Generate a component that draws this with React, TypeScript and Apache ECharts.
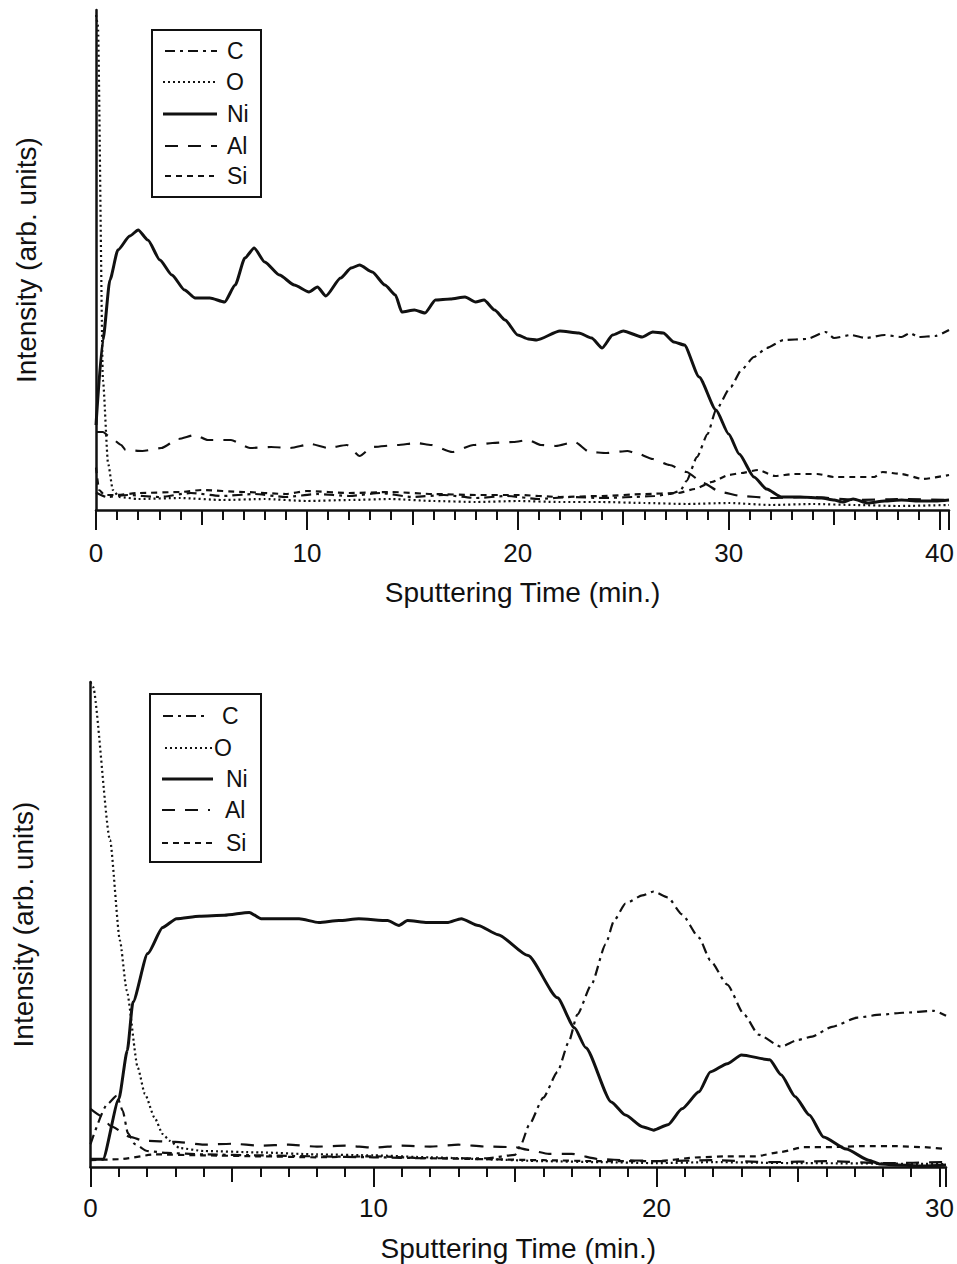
import React, { useEffect, useRef } from "react";
import * as echarts from "echarts";

// Depth profiles: [sputtering time (min), intensity (arb. units)]
const topC: [number, number][] = [
  [0, 3.5], [0.5, 2.6], [1.5, 3.0], [3, 2.6], [4.5, 3.4], [6, 2.8], [7.5, 3.2], [9, 2.6],
  [10.5, 3.2], [12, 2.8], [13.5, 3.4], [15, 2.6], [16.5, 3.0], [18, 2.4], [19.5, 2.8],
  [21, 2.2], [22.5, 2.6], [24, 2.4], [25.5, 2.6], [26.5, 2.8], [27.2, 3.2], [27.7, 3.8],
  [28.0, 5.8], [28.5, 10.6], [29.0, 15.2], [29.4, 20], [30.1, 24.6], [30.6, 28], [31.2, 30.6],
  [31.8, 32.4], [32.6, 34], [33.7, 34.2], [34.6, 35.6], [35.0, 34.4], [35.8, 35], [36.5, 34.4],
  [37.4, 35], [38.2, 34.6], [38.6, 35.4], [39.0, 34.6], [39.8, 34.8], [40.45, 36],
];
const topO: [number, number][] = [
  [0, 99], [0.09, 97], [0.33, 26], [0.57, 9.4], [0.8, 4], [1.1, 2.6], [2, 2.2], [4, 2.4],
  [6, 2.0], [8, 2.2], [10, 1.8], [12, 2.0], [14, 2.2], [16, 1.8], [18, 1.6], [20, 1.8],
  [22, 1.6], [24, 1.6], [26, 1.4], [28, 1.2], [30, 1.4], [32, 1.0], [34, 1.2], [36, 1.0],
  [38, 0.8], [40.45, 1.0],
];
const topNi: [number, number][] = [
  [0, 17], [0.33, 34], [0.66, 46], [1.04, 52], [1.6, 54.8], [2.0, 56], [2.46, 54], [3.03, 50],
  [3.6, 47], [4.2, 44], [4.7, 42.4], [5.4, 42.4], [6.1, 41.6], [6.6, 45], [7.06, 50.4],
  [7.5, 52.4], [8.0, 49.6], [8.7, 47], [9.4, 45], [10.1, 43.6], [10.5, 44.6], [10.9, 42.8],
  [11.6, 46.4], [12.1, 48.4], [12.5, 49], [13.1, 47.6], [13.7, 45], [14.2, 43], [14.5, 39.6],
  [15.1, 40], [15.6, 39.4], [16.1, 42], [16.8, 42.2], [17.5, 42.6], [18.0, 41.6], [18.4, 42],
  [18.9, 40], [19.4, 38], [20.0, 35], [20.5, 34.2], [20.9, 34], [22.0, 35.8], [22.9, 35.4],
  [23.5, 34.4], [24.0, 32.4], [24.5, 35], [25.0, 35.8], [25.9, 34.6], [26.4, 35.6],
  [26.9, 35.4], [27.4, 33.6], [27.9, 33], [28.6, 26.6], [29.4, 20], [30.0, 15.2], [30.5, 11.2],
  [31.2, 6.6], [31.8, 4.2], [32.5, 2.6], [33.4, 2.6], [34.4, 2.4], [35.0, 2], [35.4, 1.6],
  [35.9, 2.2], [36.6, 1.4], [37.4, 1.8], [38.2, 2], [39.0, 1.8], [39.8, 1.8], [40.45, 2],
];
const topAl: [number, number][] = [
  [0, 15.6], [0.33, 15.6], [0.66, 14.6], [1.2, 13], [1.4, 12], [2.2, 11.8], [3.1, 12.4],
  [3.9, 14.2], [4.7, 15], [5.3, 14], [6.4, 14], [7.3, 12.4], [8.3, 12.6], [9.2, 12.4],
  [10.2, 13.2], [11.0, 12.4], [11.9, 13], [12.5, 10.8], [13.1, 12.6], [14.3, 13], [15.2, 13.4],
  [15.9, 13], [16.9, 11.6], [17.9, 13], [18.8, 13.4], [19.8, 13.6], [20.5, 14], [21.1, 13],
  [21.8, 12.8], [22.7, 13.6], [23.4, 11.6], [24.2, 11.4], [25.2, 11.8], [25.6, 11.4],
  [26.4, 10.2], [27.2, 9], [28.0, 7.6], [28.8, 5.4], [29.6, 3.6], [30.6, 2.8], [32, 2.4],
  [34, 2.6], [36, 2], [38, 2.2], [40.45, 2],
];
const topSi: [number, number][] = [
  [0, 8.5], [0.15, 4], [0.4, 3], [1, 3], [2, 3.4], [4, 3.6], [5, 4], [7, 3.6], [9, 3.2],
  [10, 3.8], [12, 3.4], [14, 3.6], [16, 3.2], [18, 3], [20, 3], [22, 2.6], [24, 2.8],
  [26, 3.2], [27.6, 3.4], [28.4, 4.2], [29.2, 5.6], [30, 7], [30.6, 7.4], [31.4, 8],
  [32.2, 6.8], [33.1, 7.2], [34.2, 7.2], [35, 6.6], [36, 6.6], [36.9, 6.6], [37.3, 7.6],
  [38.2, 7.2], [39.2, 6.2], [40.45, 7],
];

const botC: [number, number][] = [
  [0, 4.7], [0.6, 13], [0.93, 14.7], [1.14, 11.6], [1.32, 7], [1.57, 4.7], [2, 3.3], [2.7, 2.9],
  [4, 2.6], [6, 2.4], [8, 2.2], [10, 2.0], [12, 1.8], [14, 1.8], [15, 2.5], [15.2, 4.5],
  [15.5, 8.7], [16.0, 14.3], [16.5, 19.6], [16.9, 25.8], [17.2, 31.4], [17.7, 37.6],
  [18.2, 45.9], [18.5, 50.8], [18.9, 54.3], [19.5, 56], [19.9, 56.8], [20.4, 55.6],
  [20.9, 52.1], [21.5, 47.3], [21.9, 42.6], [22.5, 37.6], [23.1, 31.4], [23.6, 27.3],
  [24.4, 24.8], [25.0, 26.2], [25.5, 26.9], [26.2, 28.9], [27.1, 30.8], [27.9, 31.4],
  [28.7, 31.8], [29.8, 32.2], [30.23, 31.2],
];
const botO: [number, number][] = [
  [0, 100], [0.09, 99], [0.69, 67.4], [1.04, 46.7], [1.28, 36.4], [1.67, 20.5], [1.92, 15.1],
  [2.27, 10.1], [2.55, 6.8], [2.8, 5.4], [3.15, 3.9], [4, 3.3], [6, 3.0], [8, 2.6], [10, 2.4],
  [12, 2.0], [14, 1.6], [16, 1.2], [18, 1.0], [20, 0.8], [22, 1.0], [25, 0.8], [30.23, 0.6],
];
const botNi: [number, number][] = [
  [0, 1.6], [0.44, 1.6], [1.0, 14], [1.3, 24], [1.5, 34], [2.02, 44], [2.55, 49.4],
  [3.04, 51.2], [3.85, 51.7], [4.73, 51.9], [5.61, 52.5], [6.03, 51.2], [7.37, 51.2],
  [8.07, 50.4], [8.78, 50.8], [9.48, 51.2], [10.5, 50.8], [10.9, 49.8], [11.2, 50.8],
  [11.9, 50.4], [12.6, 50.4], [13.1, 51.2], [13.7, 49.8], [14.4, 47.9], [15.46, 43.6],
  [16.5, 34.9], [17.1, 28.7], [17.5, 24.6], [18.4, 13.4], [18.9, 10.7], [19.5, 8.3],
  [19.9, 7.6], [20.4, 8.7], [20.9, 12], [21.5, 15.5], [21.9, 19.6], [22.5, 21.3], [23.0, 23.1],
  [24.0, 22.1], [24.4, 19], [24.9, 14.5], [25.4, 10.7], [25.9, 6.2], [26.7, 3.7], [27.5, 1.4],
  [27.9, 0.6], [28.5, 0.4], [29.4, 0.2], [30.23, 0.4],
];
const botAl: [number, number][] = [
  [0, 12], [0.4, 10.5], [0.7, 8.5], [1.4, 6.2], [1.9, 5.4], [3, 5.2], [4, 4.6], [5, 4.8],
  [6, 4.4], [7, 4.6], [8, 4.2], [9, 4.4], [10, 4.0], [11, 4.4], [12, 4.2], [13, 4.6], [14, 4.2],
  [15, 4.1], [15.5, 3.5], [16.2, 2.7], [17, 2.7], [18, 1.6], [19, 1.4], [20, 1.2], [22, 1.4],
  [24, 1.0], [26, 1.2], [28, 0.8], [30.23, 1.0],
];
const botSi: [number, number][] = [
  [0, 1.4], [1, 1.6], [2.3, 2.6], [4, 2.4], [6, 2.2], [8, 2.0], [10, 2.2], [12, 1.8], [14, 1.6],
  [16, 1.4], [18, 1.2], [20, 1.2], [21.5, 2.0], [22.5, 2.2], [23.5, 2.2], [24.4, 3.1],
  [25.2, 4.1], [26.2, 4.1], [27.3, 4.3], [28.5, 4.3], [29.4, 4.1], [30.23, 3.7],
];

const elements = ["C", "O", "Ni", "Al", "Si"];
const topMaxTime = 40.45;
const botMaxTime = 30.23;
const axisTitleX = "Sputtering Time (min.)";
const axisTitleY = "Intensity (arb. units)";

const FONT = "'Liberation Sans', Arial, Helvetica, sans-serif";
const INK = "#111";

const lineStyles: Record<string, { width: number; dash: number[] | "solid" }> = {
  C: { width: 2.2, dash: [10, 5, 3, 5] },
  O: { width: 2.2, dash: [2, 3] },
  Ni: { width: 3, dash: "solid" },
  Al: { width: 2.2, dash: [13, 10] },
  Si: { width: 2.2, dash: [6, 5] },
};

function legendGraphics(
  box: { x: number; y: number; w: number; h: number },
  rows: number[],
  lineX: [number, number][],
  textX: number[]
) {
  const out: any[] = [
    {
      type: "rect",
      shape: { x: box.x, y: box.y, width: box.w, height: box.h },
      style: { fill: "#fff", stroke: INK, lineWidth: 2 },
      z: 100,
    },
  ];
  elements.forEach((el, i) => {
    const st = lineStyles[el];
    out.push({
      type: "line",
      shape: { x1: lineX[i][0], y1: rows[i], x2: lineX[i][1], y2: rows[i] },
      style: {
        stroke: INK,
        lineWidth: st.width,
        lineDash: st.dash === "solid" ? null : st.dash,
      },
      z: 101,
    });
    out.push({
      type: "text",
      x: textX[i],
      y: rows[i],
      style: {
        text: el,
        fill: INK,
        font: `23px ${FONT}`,
        verticalAlign: "middle",
        align: "left",
      },
      z: 101,
    });
  });
  return out;
}

function mkSeries(name: string, data: [number, number][], idx: number) {
  const st = lineStyles[name];
  return {
    type: "line",
    name,
    data,
    xAxisIndex: idx * 2,
    yAxisIndex: idx,
    showSymbol: false,
    smooth: 0.2,
    smoothMonotone: "x",
    lineStyle: { color: INK, width: st.width, type: st.dash },
    z: name === "Ni" ? 5 : 3,
  };
}

// Only whole decades of minutes carry a number
const decadeLabel = (v: number) => (Math.abs(v % 10) < 1e-6 ? String(v) : "");

function mainXAxis(gridIndex: number, max: number, labelMargin: number, nameGap: number) {
  return {
    type: "value",
    gridIndex,
    position: "bottom",
    min: 0,
    max,
    interval: 10,
    axisLine: { show: true, onZero: false, lineStyle: { color: INK, width: 2.5 } },
    axisTick: { show: true, length: 20, lineStyle: { color: INK, width: 2 } },
    minorTick: { show: true, splitNumber: 10, length: 10, lineStyle: { color: INK, width: 2 } },
    splitLine: { show: false },
    axisLabel: {
      margin: labelMargin,
      color: INK,
      fontSize: 26,
      fontFamily: FONT,
      showMaxLabel: false,
      formatter: decadeLabel,
    },
    name: axisTitleX,
    nameLocation: "middle",
    nameGap,
    nameTextStyle: { color: INK, fontSize: 28, fontFamily: FONT },
  };
}

function midXAxis(gridIndex: number, max: number) {
  return {
    type: "value",
    gridIndex,
    position: "bottom",
    min: 0,
    max,
    interval: 5,
    axisLine: { show: false, onZero: false },
    axisTick: { show: true, length: 15, lineStyle: { color: INK, width: 2 } },
    axisLabel: { show: false },
    splitLine: { show: false },
  };
}

function yAxis(gridIndex: number, nameGap: number) {
  return {
    type: "value",
    gridIndex,
    min: 0,
    max: 100,
    axisLine: { show: true, lineStyle: { color: INK, width: 2.5 } },
    axisTick: { show: false },
    axisLabel: { show: false },
    splitLine: { show: false },
    name: axisTitleY,
    nameLocation: "middle",
    nameRotate: 90,
    nameGap,
    nameTextStyle: { color: INK, fontSize: 28, fontFamily: FONT },
  };
}

export default function App() {
  const ref = useRef<HTMLDivElement>(null);

  useEffect(() => {
    if (!ref.current) return;
    const chart = echarts.init(ref.current, null, { renderer: "svg" });
    const topSeries = [topC, topO, topNi, topAl, topSi];
    const botSeries = [botC, botO, botNi, botAl, botSi];

    chart.setOption({
      animation: false,
      backgroundColor: "#fff",
      grid: [
        { left: 96, top: 10, width: 854, height: 500 },
        { left: 90.5, top: 682, width: 859.5, height: 485 },
      ],
      xAxis: [
        mainXAxis(0, topMaxTime, 30, 68),
        midXAxis(0, topMaxTime),
        mainXAxis(1, botMaxTime, 28, 67),
        midXAxis(1, botMaxTime),
      ],
      yAxis: [yAxis(0, 56), yAxis(1, 53)],
      series: [
        ...elements.map((el, i) => mkSeries(el, topSeries[i], 0)),
        ...elements.map((el, i) => mkSeries(el, botSeries[i], 1)),
      ],
      graphic: [
        ...legendGraphics(
          { x: 152, y: 30, w: 109, h: 167 },
          [51, 82, 114, 146, 176],
          [[165, 217], [163, 217], [163, 217], [165, 217], [165, 214]],
          [227, 226, 227, 227, 227]
        ),
        ...legendGraphics(
          { x: 150, y: 694, w: 111, h: 168 },
          [716, 748, 779, 810, 843],
          [[163, 208], [165, 213], [162, 213], [162, 210], [162, 213]],
          [222, 214, 226, 225, 226]
        ),
      ],
    });

    return () => chart.dispose();
  }, []);

  return (
    <div
      ref={ref}
      style={{ position: "absolute", left: 0, top: 0, width: 957, height: 1264, background: "#fff" }}
    />
  );
}
